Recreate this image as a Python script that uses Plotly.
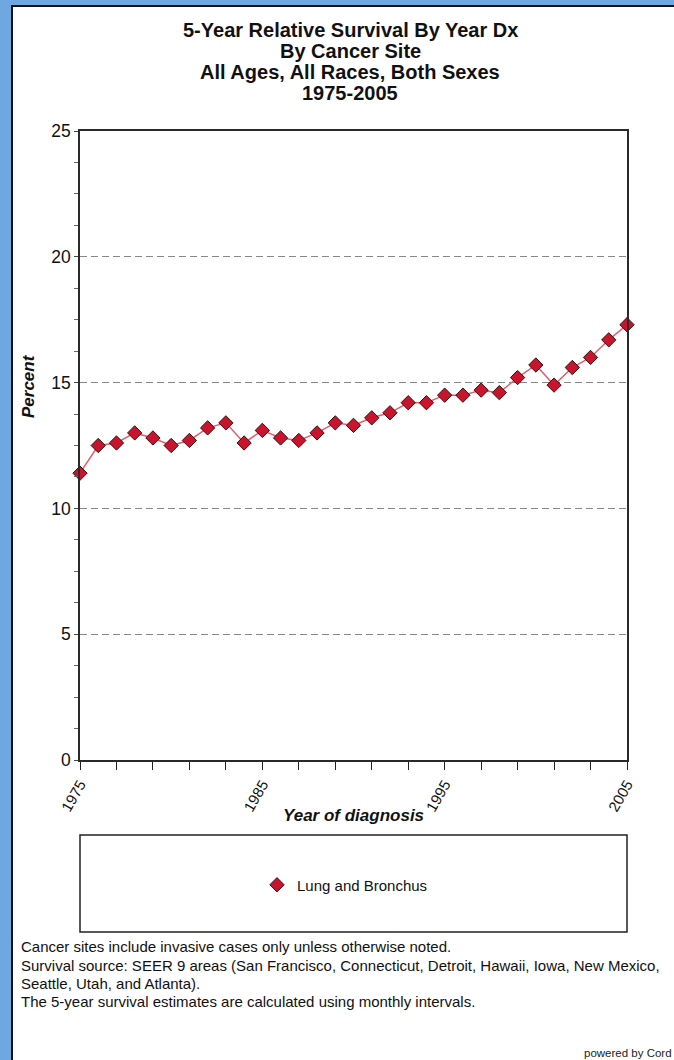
import plotly.graph_objects as go

years = list(range(1975, 2006))
survival = [11.4, 12.5, 12.6, 13.0, 12.8, 12.5, 12.7, 13.2, 13.4, 12.6,
            13.1, 12.8, 12.7, 13.0, 13.4, 13.3, 13.6, 13.8, 14.2, 14.2,
            14.5, 14.5, 14.7, 14.6, 15.2, 15.7, 14.9, 15.6, 16.0, 16.7, 17.3]
series_name = "Lung and Bronchus"
x_tick_vals = [1975, 1985, 1995, 2005]
x_tick_text = ["1975", "1985", "1995", "2005"]
y_tick_vals = [0, 5, 10, 15, 20, 25]
title_lines = ["5-Year Relative Survival By Year Dx", "By Cancer Site",
               "All Ages, All Races, Both Sexes", "1975-2005"]
footer_lines = [
    "Cancer sites include invasive cases only unless otherwise noted.",
    "Survival source: SEER 9 areas (San Francisco, Connecticut, Detroit, Hawaii, Iowa, New Mexico,",
    "Seattle, Utah, and Atlanta).",
    "The 5-year survival estimates are calculated using monthly intervals.",
]

W, H = 674, 1060
def px(x):
    return x / W
def py(y):
    return 1 - y / H

FONT = "Liberation Sans, Arial, sans-serif"
RED = "#c8142c"

fig = go.Figure()
fig.add_trace(go.Scatter(
    x=years, y=survival, mode="lines+markers", showlegend=False,
    line=dict(color="#e0606e", width=1.5),
    marker=dict(symbol="diamond", size=11, color=RED,
                line=dict(color="#3a1010", width=1)),
    cliponaxis=False,
))
fig.add_trace(go.Scatter(
    x=[None], y=[None], mode="markers", name=series_name,
    marker=dict(symbol="diamond", size=11, color=RED,
                line=dict(color="#3a1010", width=1)),
))

shapes = [
    dict(type="rect", xref="paper", yref="paper", x0=px(12), x1=px(700),
         y0=py(1100), y1=py(6), fillcolor="white",
         line=dict(color="#111", width=2), layer="below"),
    dict(type="rect", xref="paper", yref="paper", x0=px(80), x1=px(627),
         y0=py(932), y1=py(835), fillcolor="rgba(0,0,0,0)",
         line=dict(color="#222", width=1.5)),
]

annotations = []
title_y = [30, 51, 72, 93]
for t, yy in zip(title_lines, title_y):
    annotations.append(dict(text="<b>%s</b>" % t, x=px(350), y=py(yy),
                            xref="paper", yref="paper", showarrow=False,
                            xanchor="center", yanchor="middle",
                            font=dict(family=FONT, size=20, color="#111")))
foot_y = [946, 965, 983, 1001]
for t, yy in zip(footer_lines, foot_y):
    annotations.append(dict(text=t, x=px(19), y=py(yy), xref="paper", yref="paper",
                            showarrow=False, xanchor="left", yanchor="middle",
                            font=dict(family=FONT, size=15, color="#111")))
annotations.append(dict(text="powered by Cord", x=px(674), y=py(1053),
                        xref="paper", yref="paper", showarrow=False,
                        xanchor="right", yanchor="middle",
                        font=dict(family=FONT, size=11.5, color="#222")))
annotations.append(dict(text="<b><i>Year of diagnosis</i></b>", x=px(353), y=py(815),
                        xref="paper", yref="paper", showarrow=False,
                        xanchor="center", yanchor="middle",
                        font=dict(family=FONT, size=17, color="#111")))
annotations.append(dict(text="<b><i>Percent</i></b>", x=px(28), y=py(386),
                        xref="paper", yref="paper", showarrow=False,
                        xanchor="center", yanchor="middle", textangle=-90,
                        font=dict(family=FONT, size=17, color="#111")))

fig.update_layout(
    width=W, height=H,
    margin=dict(l=0, r=0, t=0, b=0, autoexpand=False),
    paper_bgcolor="#6fa8e0",
    plot_bgcolor="white",
    shapes=shapes,
    annotations=annotations,
    legend=dict(orientation="h", x=px(257), xanchor="left", y=py(885),
                yanchor="middle", bgcolor="rgba(0,0,0,0)",
                font=dict(family=FONT, size=15, color="#111"),
                itemwidth=30),
    xaxis=dict(domain=[px(80), px(627)], range=[1975, 2005], automargin=False,
               tickmode="array", tickvals=x_tick_vals, ticktext=x_tick_text,
               tickangle=-60, ticks="outside", ticklen=8, tickcolor="#222",
               tickfont=dict(family=FONT, size=15, color="#111"),
               showline=True, linecolor="#2a2a2a", linewidth=1.5, mirror=True,
               showgrid=False, zeroline=False,
               minor=dict(dtick=2, tick0=1975, ticks="outside", ticklen=8,
                          tickcolor="#222", showgrid=False)),
    yaxis=dict(domain=[py(760), py(131)], range=[0, 25], automargin=False,
               tickmode="array", tickvals=y_tick_vals,
               ticks="outside", ticklen=4, tickcolor="#444",
               tickfont=dict(family=FONT, size=17.5, color="#111"),
               showline=True, linecolor="#2a2a2a", linewidth=1.5, mirror=True,
               showgrid=True, gridcolor="#888", griddash="7px,4px", gridwidth=1,
               zeroline=False,
               minor=dict(dtick=1.25, tick0=0, ticks="outside", ticklen=4,
                          tickcolor="#666", showgrid=False)),
)

fig.write_html("out.html", config={"displayModeBar": False},
               post_script="document.body.style.margin='0px';document.body.style.overflow='hidden';")
